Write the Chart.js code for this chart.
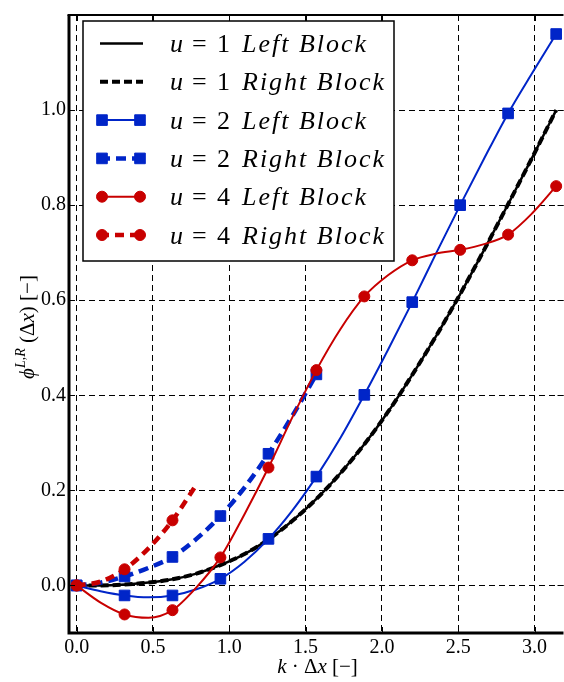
<!DOCTYPE html>
<html>
<head>
<meta charset="utf-8">
<script src="https://cdn.jsdelivr.net/npm/chart.js@4.4.1/dist/chart.umd.min.js"></script>
<style>
html, body { margin:0; padding:0; background:#fff; overflow:hidden; }
#marco { width:564px; height:682px; overflow:hidden; }
canvas { display:block; }
</style>
</head>
<body>
<div id="marco"><canvas id="canvas-chart-line-phi" width="572" height="682" style="width:572px;height:682px"></canvas></div>
<script>
// k*dx sampled every pi/20, markers sit on every second sample (pi/10)
var kdx=[0,0.157,0.314,0.471,0.628,0.785,0.942,1.100,1.257,1.414,1.571,1.728,1.885,2.042,2.199,2.356,2.513,2.670,2.827,2.985,3.142];

var u1Left=[0,0.000,0.002,0.006,0.013,0.025,0.043,0.066,0.097,0.136,0.182,0.236,0.297,0.366,0.443,0.525,0.613,0.706,0.802,0.900,1.000];
var u1Right=[0,0.000,0.002,0.006,0.013,0.025,0.043,0.066,0.097,0.136,0.182,0.236,0.297,0.366,0.443,0.525,0.613,0.706,0.802,0.900,1.000];
var u2Left=[0,-0.012,-0.021,-0.025,-0.021,-0.008,0.014,0.050,0.098,0.158,0.229,0.310,0.401,0.497,0.596,0.699,0.800,0.898,0.993,1.078,1.160];
var u2Right=[0,0.006,0.019,0.037,0.060,0.098,0.146,0.206,0.277,0.357,0.444];
var u4Left=[0,-0.036,-0.061,-0.068,-0.052,-0.004,0.059,0.150,0.248,0.354,0.453,0.539,0.608,0.653,0.684,0.698,0.706,0.718,0.738,0.783,0.840];
var u4Right=[0,0.008,0.034,0.078,0.137,0.212];

var etiquetas=['u = 1 Left Block','u = 1 Right Block','u = 2 Left Block','u = 2 Right Block','u = 4 Left Block','u = 4 Right Block'];
var ticksX=[0,0.5,1.0,1.5,2.0,2.5,3.0];
var ticksY=[0,0.2,0.4,0.6,0.8,1.0];

var azul='#0025c8';
var rojo='#c80000';
var serif="'Liberation Serif', 'DejaVu Serif', serif";

function puntos(valores){
	return valores.map(function(v,i){ return {x:kdx[i], y:v}; });
}
function radioMarca(r){
	return function(c){ return c.dataIndex%2===0 ? r : 0; };
}

function serie(i, valores, color, ancho, guion, estilo, r, orden){
	return {
		label: etiquetas[i],
		data: puntos(valores),
		borderColor: color,
		backgroundColor: color,
		borderWidth: ancho,
		borderDash: guion,
		pointStyle: estilo || 'circle',
		pointRadius: r ? radioMarca(r) : 0,
		pointHoverRadius: r ? radioMarca(r) : 0,
		pointBorderWidth: 1,
		marca: r,
		cubicInterpolationMode: 'monotone',
		fill: false,
		order: orden
	};
}

// rich text: list of [text, font, dy]
function textoRico(ctx, partes, x, y){
	partes.forEach(function(p){
		ctx.font=p[1];
		ctx.fillText(p[0], x, y+(p[2]||0));
		x+=ctx.measureText(p[0]).width;
	});
}
function anchoRico(ctx, partes){
	var w=0;
	partes.forEach(function(p){ ctx.font=p[1]; w+=ctx.measureText(p[0]).width; });
	return w;
}

function dibujaMarca(ctx, estilo, r, x, y){
	ctx.beginPath();
	if(estilo==='rect'){
		var s=Math.SQRT1_2*r;
		ctx.rect(x-s, y-s, 2*s, 2*s);
	}else{
		ctx.arc(x, y, r, 0, Math.PI*2);
	}
	ctx.fill();
	ctx.stroke();
}

var pluginMarco={
	id: 'marco',
	afterDatasetsDraw: function(chart){
		var ctx=chart.ctx, a=chart.chartArea;
		ctx.save();
		ctx.strokeStyle='#000';
		ctx.lineWidth=1;
		chart.scales.x.ticks.forEach(function(t){
			var px=Math.round(chart.scales.x.getPixelForValue(t.value))+0.5;
			ctx.beginPath(); ctx.moveTo(px,a.top); ctx.lineTo(px,a.top+6); ctx.moveTo(px,a.bottom); ctx.lineTo(px,a.bottom-6); ctx.stroke();
		});
		chart.scales.y.ticks.forEach(function(t){
			var py=Math.round(chart.scales.y.getPixelForValue(t.value))+0.5;
			ctx.beginPath(); ctx.moveTo(a.left,py); ctx.lineTo(a.left+6,py); ctx.moveTo(a.right,py); ctx.lineTo(a.right-6,py); ctx.stroke();
		});
		ctx.lineWidth=3;
		ctx.beginPath(); ctx.moveTo(a.left, a.top); ctx.lineTo(a.left, a.bottom); ctx.lineTo(a.right, a.bottom); ctx.stroke();
		ctx.lineWidth=2.2;
		ctx.beginPath(); ctx.moveTo(a.left-1.5, a.top); ctx.lineTo(a.right, a.top); ctx.stroke();
		ctx.restore();
	},
	afterDraw: function(chart){
		var ctx=chart.ctx, a=chart.chartArea;
		ctx.save();
		ctx.fillStyle='#000';
		ctx.textBaseline='alphabetic';

		// x title
		var tx=[['k','italic 21px '+serif],[' \u00b7 ','21px '+serif],['\u0394','21px '+serif],['x','italic 21px '+serif],[' [\u2212]','21px '+serif]];
		var wx=anchoRico(ctx, tx);
		textoRico(ctx, tx, (a.left+564)/2-wx/2+1, 673);

		// y title
		var ty=[['\u03d5','italic 21px '+serif],['L,R','italic 14px '+serif,-9],[' (','21px '+serif],['\u0394','21px '+serif],['x','italic 21px '+serif],[')','21px '+serif],[' [\u2212]','21px '+serif]];
		var wy=anchoRico(ctx, ty);
		ctx.save();
		ctx.translate(34, (a.top+a.bottom)/2+wy/2+3);
		ctx.rotate(-Math.PI/2);
		textoRico(ctx, ty, 0, 0);
		ctx.restore();

		// legend
		var lx=83, ly=21, lw=311, lh=240;
		ctx.fillStyle='#fff';
		ctx.fillRect(lx,ly,lw,lh);
		ctx.strokeStyle='#000';
		ctx.lineWidth=1.5;
		ctx.strokeRect(lx,ly,lw,lh);
		chart.data.datasets.forEach(function(ds,i){
			var y=43.5+i*38.3;
			ctx.strokeStyle=ds.borderColor;
			ctx.fillStyle=ds.borderColor;
			ctx.lineWidth=ds.borderWidth;
			ctx.setLineDash(ds.borderDash||[]);
			ctx.beginPath(); ctx.moveTo(100,y); ctx.lineTo(143,y); ctx.stroke();
			ctx.setLineDash([]);
			if(ds.marca){
				ctx.lineWidth=1;
				dibujaMarca(ctx, ds.pointStyle, ds.marca, 102, y);
				dibujaMarca(ctx, ds.pointStyle, ds.marca, 140, y);
			}
			var w=ds.label.split(' ');
			ctx.fillStyle='#000';
			ctx.font='italic 26px '+serif;
			ctx.fillText(w[0], 170, y+8.5);
			ctx.font='26px '+serif;
			ctx.fillText(w[1], 192, y+8.5);
			ctx.fillText(w[2], 217, y+8.5);
			ctx.font='italic 26px '+serif;
			ctx.letterSpacing='2px';
			ctx.fillText(w[3]+' '+w[4], 242, y+8.5);
			ctx.letterSpacing='0px';
		});
		ctx.restore();
	}
};

const canvasPhi=document.getElementById('canvas-chart-line-phi').getContext('2d');
var chartPhi;

function chartDispersion(){
	chartPhi=new Chart(canvasPhi, {
		type: 'line',
		data: {
			datasets: [
				serie(0, u1Left, '#000', 2.5, [], null, 0, 6),
				serie(1, u1Right, '#000', 4, [8,4], null, 0, 5),
				serie(2, u2Left, azul, 2, [], 'rect', 7.5, 4),
				serie(3, u2Right, azul, 4.5, [10,6], 'rect', 7.5, 3),
				serie(4, u4Left, rojo, 2, [], 'circle', 5.5, 2),
				serie(5, u4Right, rojo, 4.5, [9,6], 'circle', 5.5, 1)
			]
		},
		options: {
			responsive: false,
			animation: false,
			events: [],
			layout: { padding: { top: 8, right: 4, bottom: 0, left: 0 } },
			plugins: { legend: { display: false }, tooltip: { enabled: false } },
			scales: {
				x: {
					type: 'linear',
					min: -0.05,
					max: 3.19,
					afterBuildTicks: function(s){ s.ticks=ticksX.map(function(v){ return {value:v}; }); },
					afterFit: function(s){ s.height=49; },
					grid: { color: '#000', lineWidth: 1, drawTicks: false },
					border: { display: false, dash: [6,4] },
					ticks: {
						padding: 3,
						color: '#000',
						maxRotation: 0,
						font: { family: serif, size: 20 },
						callback: function(v){ return v.toFixed(1); }
					}
				},
				y: {
					type: 'linear',
					min: -0.1,
					max: 1.2,
					afterBuildTicks: function(s){ s.ticks=ticksY.map(function(v){ return {value:v}; }); },
					afterFit: function(s){ s.width=69; },
					grid: { color: '#000', lineWidth: 1, drawTicks: false },
					border: { display: false, dash: [6,4] },
					ticks: {
						padding: 3,
						color: '#000',
						font: { family: serif, size: 20 },
						callback: function(v){ return v.toFixed(1); }
					}
				}
			}
		},
		plugins: [pluginMarco]
	});
}

chartDispersion();
</script>
</body>
</html>
